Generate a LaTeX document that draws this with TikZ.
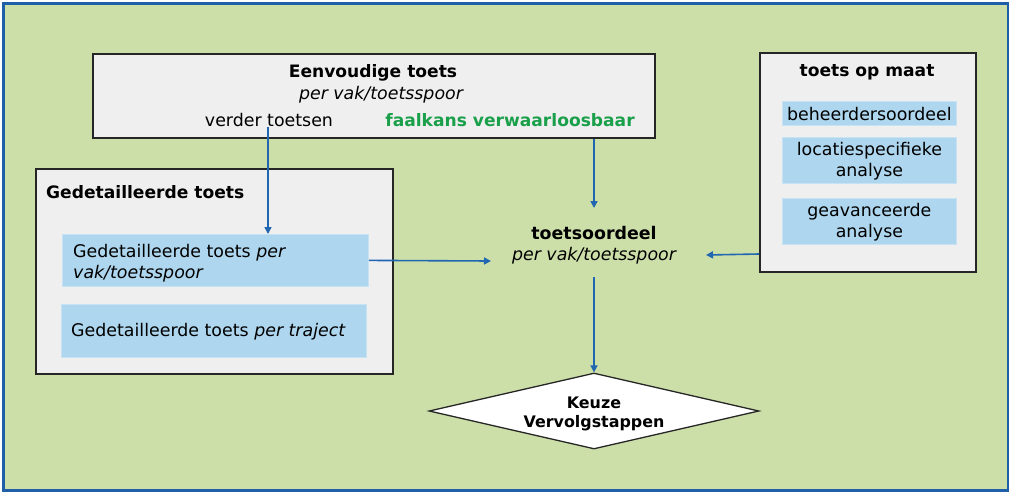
\documentclass[tikz,border=0pt]{standalone}
\usepackage{fontspec}
\setmainfont{DejaVu Sans}
\usetikzlibrary{arrows.meta,shapes.geometric}
\definecolor{bggreen}{HTML}{CCDFA9}
\definecolor{frameblue}{HTML}{1F5FA8}
\definecolor{boxgray}{HTML}{EFEFEF}
\definecolor{lightblue}{HTML}{AED6EE}
\definecolor{arrowblue}{HTML}{2166B0}
\definecolor{textgreen}{HTML}{1AA04A}
\tikzset{
  graybox/.style={draw=black!85, line width=1.6pt, fill=boxgray, anchor=north west, inner sep=0pt},
  bluebox/.style={fill=lightblue, draw=lightblue!70!white, line width=0.8pt, anchor=north west, inner sep=0pt},
  txt/.style={font=\fontsize{17.4}{21}\selectfont, inner sep=0pt, text=black},
  btxt/.style={txt, font=\fontsize{17.1}{21}\selectfont\bfseries},
  conn/.style={draw=arrowblue, line width=1.6pt, -{Triangle[length=7pt,width=7pt]}},
}
\begin{document}
\begin{tikzpicture}[x=1pt,y=-1pt]
\useasboundingbox (0,0) rectangle (1009,491);
\node[draw=frameblue, line width=3pt, fill=bggreen, anchor=north west, minimum width=1005pt, minimum height=487pt, inner sep=0pt] (frame) at (2,2) {};
% Eenvoudige toets
\node[graybox, minimum width=562pt, minimum height=84pt] (eenv) at (92,53) {};
\node[btxt, anchor=mid] (eenvt) at (373,75) {Eenvoudige toets};
\node[txt, anchor=mid] (eenvs) at (381,97) {\itshape per vak/toetsspoor};
\node[txt, anchor=mid] (verder) at (269,124) {verder toetsen};
\node[btxt, anchor=mid, text=textgreen] (faal) at (510,124) {faalkans verwaarloosbaar};
% Gedetailleerde toets
\node[graybox, minimum width=357pt, minimum height=205pt] (gedet) at (35,168) {};
\node[btxt, anchor=mid west] (gedett) at (46,196) {Gedetailleerde toets};
\node[bluebox, minimum width=306pt, minimum height=52pt] (gvak) at (62,234) {};
\node[txt, anchor=west, align=left] (gvakt) at (73,263) {Gedetailleerde toets \itshape per\\\itshape vak/toetsspoor};
\node[bluebox, minimum width=305pt, minimum height=53pt] (gtraj) at (61,304) {};
\node[txt, anchor=mid west] (gtrajt) at (71,334) {Gedetailleerde toets \itshape per traject};
% toets op maat
\node[graybox, minimum width=216pt, minimum height=219pt] (maat) at (759,52) {};
\node[btxt, anchor=mid] (maatt) at (867,74) {toets op maat};
\node[bluebox, minimum width=174pt, minimum height=24pt] (beh) at (782,101) {};
\node[txt, anchor=center] (beht) at ([yshift=-1pt]beh.center) {beheerdersoordeel};
\node[bluebox, minimum width=174pt, minimum height=46pt] (loc) at (782,137) {};
\node[txt, anchor=center, align=center] (loct) at ([yshift=-1pt]loc.center) {locatiespecifieke\\analyse};
\node[bluebox, minimum width=174pt, minimum height=46pt] (gea) at (782,198) {};
\node[txt, anchor=center, align=center] (geat) at ([yshift=-1pt]gea.center) {geavanceerde\\analyse};
% toetsoordeel
\node[txt, align=center, minimum width=190pt, minimum height=68pt] (oordeel) at (594,245) {\bfseries toetsoordeel\\\itshape per vak/toetsspoor};
\coordinate (oin) at (594,208);
\coordinate (oout) at (594,277);
\coordinate (oleft) at (491,261);
\coordinate (oright) at (706,255);
% diamond
\node[diamond, draw=black!85, line width=1.3pt, fill=white, minimum width=330pt, minimum height=76pt, inner sep=0pt] (keuze) at (594,411) {};
\node[btxt, align=center, font=\fontsize{15.9}{19}\selectfont\bfseries] (keuzet) at (594,414) {Keuze\\Vervolgstappen};
% connectors
\draw[conn] (verder.south -| 268,137) -- (gvak.north -| 268,137);
\draw[conn] (eenv.south -| oin) -- (oin);
\draw[conn] (gvak.east) -- (oleft);
\draw[conn] (maat.west |- 0,254) -- (oright);
\draw[conn] (oout) -- (keuze.north);
\end{tikzpicture}
\end{document}
